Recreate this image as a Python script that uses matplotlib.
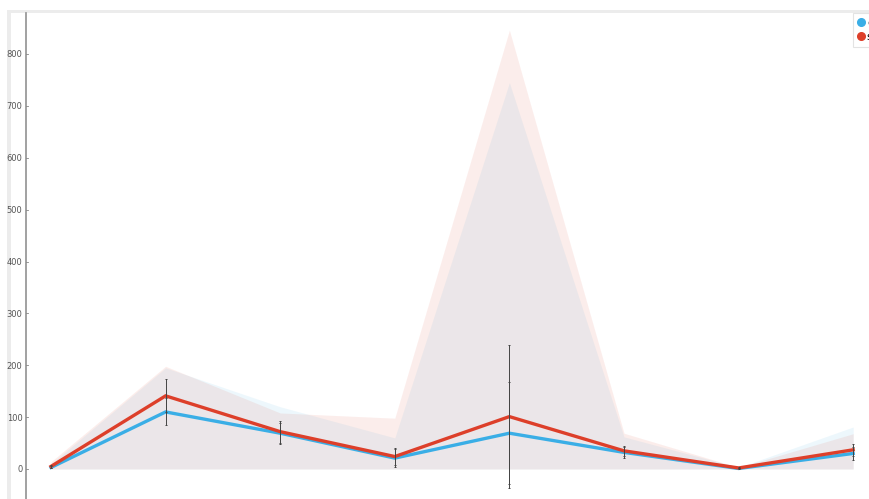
import matplotlib
matplotlib.use("Agg")
import matplotlib.pyplot as plt
from matplotlib.lines import Line2D
from matplotlib.patches import Rectangle
import numpy as np

# ---- data ----
positions = [0, 1, 2, 3, 4, 5, 6, 7]
series_names = ["control", "sample"]

blue_mean = [3, 110, 69, 21, 69, 32, 1, 30]
blue_err = [2, 26, 20, 17, 98, 10, 1, 12]
blue_upper = [10, 195, 120, 60, 745, 62, 3, 81]

red_mean = [5, 141, 72, 24, 101, 35, 2, 37]
red_err = [3, 32, 21, 16, 138, 9, 1, 12]
red_upper = [14, 198, 108, 98, 846, 69, 3, 68]

y_ticks = [0, 100, 200, 300, 400, 500, 600, 700, 800]

BLUE = "#3aaee6"
RED = "#dd3f2a"

W, H = 870, 499
fig = plt.figure(figsize=(W / 100, H / 100), dpi=100)
fig.patch.set_facecolor("white")

# light frame around the plotting region
fig.patches.append(Rectangle((7 / W, 0), 1, 1 - 10 / H, transform=fig.transFigure,
                             facecolor="#ececec", edgecolor="none", zorder=-10))
fig.patches.append(Rectangle((11 / W, 0), 1, 1 - 13 / H, transform=fig.transFigure,
                             facecolor="white", edgecolor="none", zorder=-9))

ax = fig.add_axes([26 / W, 0, 1 - 26 / W, 1 - 13 / H])
ax.set_facecolor("none")
ax.set_zorder(1)

px_per_unit = 415 / 800
ax.set_ylim(-(499 - 469) / px_per_unit, (469 - 13) / px_per_unit)
step = 114.6
x_left = -(51 - 26) / step
ax.set_xlim(x_left, (870 - 51) / step)

x = np.array(positions)

# shaded ranges
ax.fill_between(x, 0, blue_upper, color=BLUE, alpha=0.09, linewidth=0, zorder=1)
ax.fill_between(x, 0, red_upper, color=RED, alpha=0.09, linewidth=0, zorder=1)

# mean lines
ax.plot(x, blue_mean, color=BLUE, lw=2.4, zorder=3, solid_joinstyle="miter")
ax.plot(x, red_mean, color=RED, lw=2.4, zorder=4, solid_joinstyle="miter")

# error bars
ax.errorbar(x, blue_mean, yerr=blue_err, fmt="none", ecolor="#444444",
            elinewidth=0.7, capsize=0.9, capthick=0.7, zorder=5)
ax.errorbar(x, red_mean, yerr=red_err, fmt="none", ecolor="#444444",
            elinewidth=0.7, capsize=0.9, capthick=0.7, zorder=5)

for s in ["top", "right", "bottom"]:
    ax.spines[s].set_visible(False)
ax.spines["left"].set_color("#9a9a9a")
ax.spines["left"].set_linewidth(1.3)

ax.set_xticks([])
ax.set_yticks(y_ticks)
ax.set_yticklabels([str(v) for v in y_ticks])
ax.tick_params(axis="y", length=0, labelsize=6, labelcolor="#555555", pad=2.5)
for v in y_ticks:
    ax.plot([x_left, x_left + 2.5 / step], [v, v],
            color="#888888", lw=0.6, clip_on=False, zorder=6)

handles = [
    Line2D([], [], linestyle="none", marker="o", markersize=5.5,
           markerfacecolor=BLUE, markeredgecolor=BLUE),
    Line2D([], [], linestyle="none", marker="o", markersize=5.5,
           markerfacecolor=RED, markeredgecolor=RED),
]
leg = ax.legend(handles, series_names, loc="upper left",
                bbox_to_anchor=(853 / W, 1 - 13 / H), bbox_transform=fig.transFigure,
                fontsize=8, frameon=True, fancybox=False, handlelength=0.6,
                handletextpad=0.2, borderpad=0.45, labelspacing=0.35,
                borderaxespad=0)
leg.get_frame().set_edgecolor("#dddddd")
leg.get_frame().set_linewidth(0.8)

fig.savefig("out.png", dpi=100)
